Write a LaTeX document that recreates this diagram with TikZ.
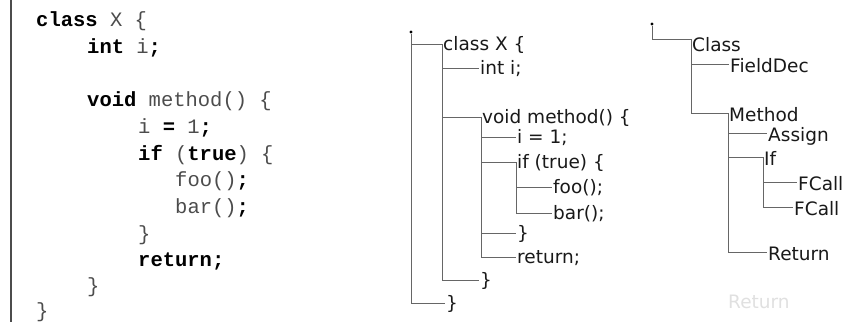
\documentclass[tikz,border=0pt]{standalone}
\usepackage{fontspec}
\newfontfamily\codefont{Liberation Mono}
\newfontfamily\treefont{DejaVu Sans}
\newcommand{\kw}[1]{\textbf{\color{black}#1}}

\begin{document}
\begin{tikzpicture}[x=1pt, y=-1pt,
    codeline/.style={anchor=base west, inner sep=0pt, text=black!70,
        font=\codefont\fontsize{20.5}{24}\selectfont},
    srcnode/.style={anchor=west, inner sep=1pt, text height=12pt, text depth=0pt,
        text=black!90, font=\treefont\fontsize{18.5}{22}\selectfont},
    astnode/.style={srcnode, text height=16pt},
    branch/.style={draw=black!60, line width=0.9pt},
    rootdot/.style={circle, fill=black, inner sep=0pt, minimum size=3.2pt}]
    \useasboundingbox (0,0) rectangle (846,322);

    \draw[black!70, line width=1.2pt] (11,0) -- (11,322);
    \node[codeline] (cclass)  at (36,26)  {\kw{class} X \{};
    \node[codeline] (cfield)  at (87,53)  {\kw{int} i\kw{;}};
    \node[codeline] (cmeth)   at (87,106) {\kw{void} method() \{};
    \node[codeline] (cassign) at (138,133) {i \kw{=} 1\kw{;}};
    \node[codeline] (cif)     at (138,160) {\kw{if} (\kw{true}) \{};
    \node[codeline] (cfoo)    at (175,186) {foo()\kw{;}};
    \node[codeline] (cbar)    at (175,213) {bar()\kw{;}};
    \node[codeline] (cifend)  at (138,240) {\}};
    \node[codeline] (cret)    at (138,266) {\kw{return;}};
    \node[codeline] (cmend)   at (87,292) {\}};
    \node[codeline] (ccend)   at (36,317) {\}};

    \node[rootdot] (srcroot) at (411,32) {};
    \node[srcnode] (sclass)  at (442,44)  {class X \{};
    \node[srcnode] (sfield)  at (479,68)  {int i;};
    \node[srcnode] (smeth)   at (481,117) {void method() \{};
    \node[srcnode] (sassign) at (516,137) {i = 1;};
    \node[srcnode] (sif)     at (516,162) {if (true) \{};
    \node[srcnode] (sfoo)    at (552,187) {foo();};
    \node[srcnode] (sbar)    at (552,213) {bar();};
    \node[srcnode] (sifend)  at (516,233) {\}};
    \node[srcnode] (sret)    at (516,257) {return;};
    \node[srcnode] (smend)   at (479,280) {\}};
    \node[srcnode] (scend)   at (445,303) {\}};
    \draw[branch] (srcroot) |- (sclass.west);
    \draw[branch] (srcroot) |- (scend.west);
    \draw[branch] (sclass.west) |- (sfield.west);
    \draw[branch] (sclass.west) |- (smeth.west);
    \draw[branch] (sclass.west) |- (smend.west);
    \draw[branch] (smeth.west) |- (sassign.west);
    \draw[branch] (smeth.west) |- (sif.west);
    \draw[branch] (smeth.west) |- (sifend.west);
    \draw[branch] (smeth.west) |- (sret.west);
    \draw[branch] (sif.west) |- (sfoo.west);
    \draw[branch] (sif.west) |- (sbar.west);

    \node[rootdot] (astroot) at (652,24) {};
    \node[astnode] (aclass)  at (691,43)  {Class};
    \node[astnode] (afield)  at (729,64)  {FieldDec};
    \node[astnode] (ameth)   at (728,113) {Method};
    \node[astnode] (aassign) at (767,133) {Assign};
    \node[astnode] (aif)     at (763,157) {If};
    \node[astnode] (afoo)    at (797,182) {FCall};
    \node[astnode] (abar)    at (793,207) {FCall};
    \node[astnode] (aret)    at (767,252) {Return};
    \node[astnode, text=black!12] (aghost) at (727,300) {Return};
    \draw[branch] (astroot) |- ([yshift=4pt]aclass.west);
    \draw[branch] ([yshift=4pt]aclass.west) |- (afield.west);
    \draw[branch] ([yshift=4pt]aclass.west) |- (ameth.west);
    \draw[branch] (ameth.west) |- (aassign.west);
    \draw[branch] (ameth.west) |- (aif.west);
    \draw[branch] (ameth.west) |- (aret.west);
    \draw[branch] (aif.west) |- (afoo.west);
    \draw[branch] (aif.west) |- (abar.west);
\end{tikzpicture}
\end{document}
